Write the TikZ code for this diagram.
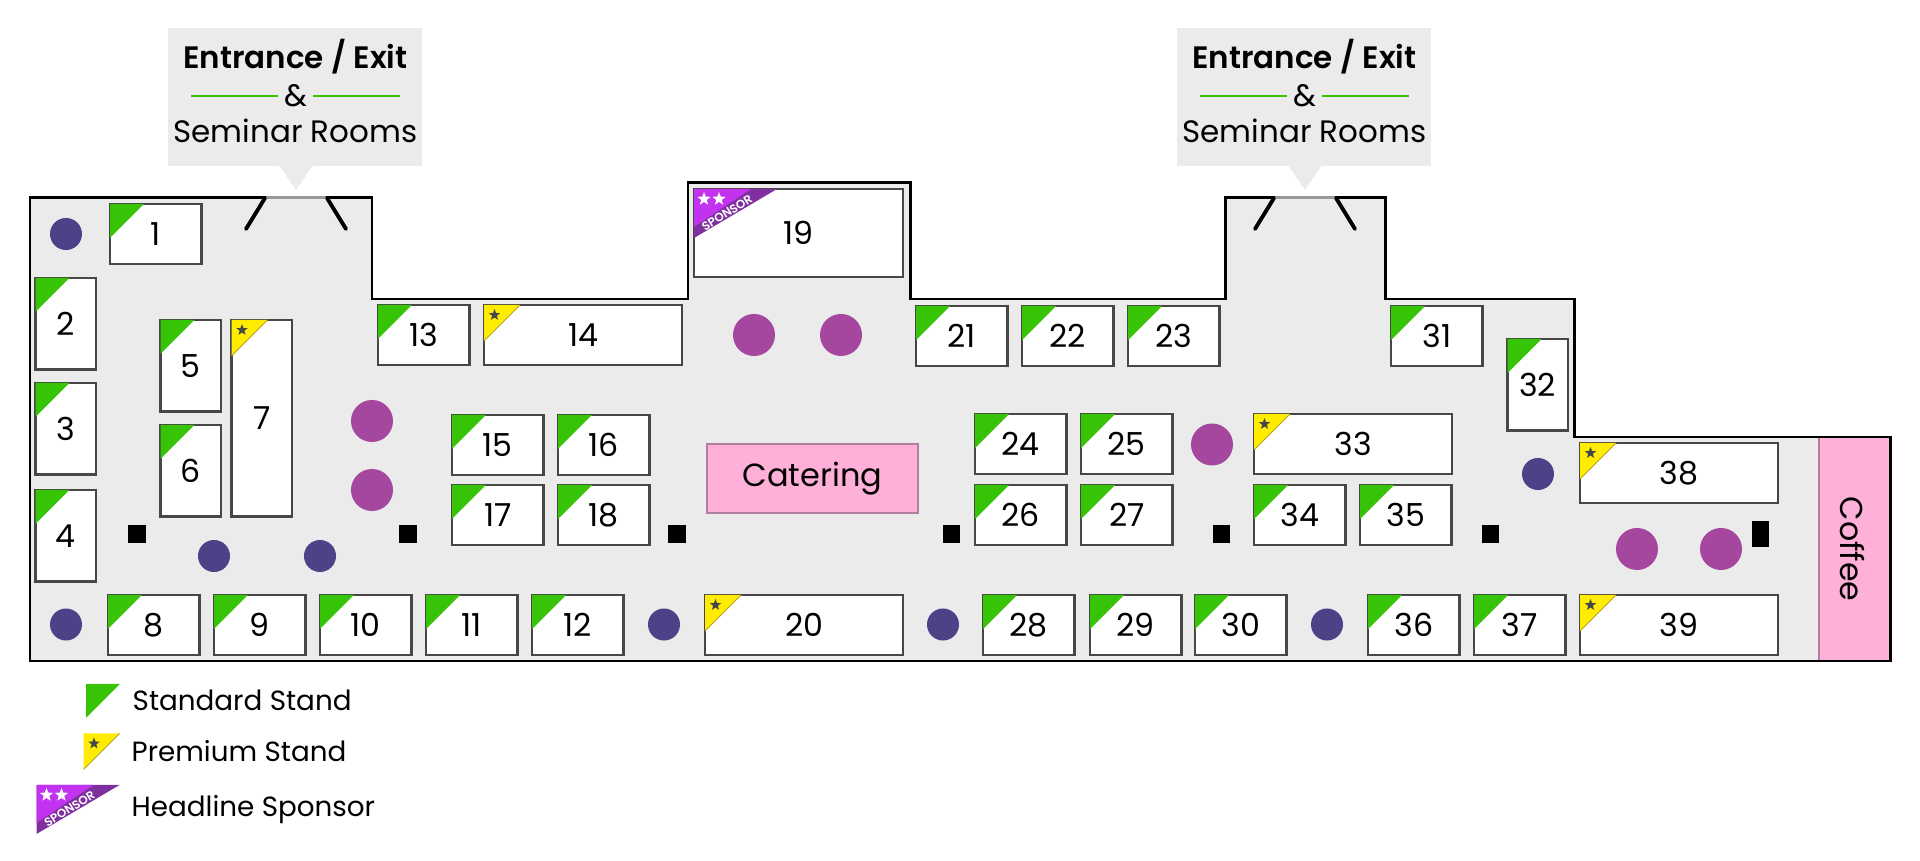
\documentclass[tikz,border=0pt]{standalone}
\usepackage{fontspec}
\setmainfont{Poppins}[BoldFont={* SemiBold}]
\usetikzlibrary{shapes.geometric}

\definecolor{floorgrey}{HTML}{EBEBEB}
\definecolor{standgreen}{HTML}{37C406}
\definecolor{premyellow}{HTML}{FFEC00}
\definecolor{premedge}{HTML}{B3A418}
\definecolor{sponsorpink}{HTML}{C233F0}
\definecolor{sponsordark}{HTML}{7F2F9E}
\definecolor{blobblue}{HTML}{4E4187}
\definecolor{blobpurple}{HTML}{A5469F}
\definecolor{foodpink}{HTML}{FFB0D8}
\definecolor{foodedge}{HTML}{B07E9E}

\tikzset{
    stand/.style = {draw = black!72, fill = white, line width = 0.7pt, inner sep = 0pt, outer sep = 0pt,
            anchor = north west, font = \fontsize{9}{9}\selectfont, minimum width = 0.915cm, minimum height = 0.6cm},
    tallstand/.style = {stand, minimum width = 0.605cm, minimum height = 0.915cm},
    widestand/.style = {stand, minimum width = 1.98cm},
    blue spot/.style = {fill = blobblue, circle, minimum size = 0.32cm, inner sep = 0pt},
    purple spot/.style = {fill = blobpurple, circle, minimum size = 0.42cm, inner sep = 0pt},
    pillar/.style = {fill = black, minimum size = 0.17cm, inner sep = 0pt},
    small star/.style = {star, star points = 5, star point ratio = 2.4, inner sep = 0pt, minimum size = 0.12cm},
    white star/.style = {small star, fill = white, minimum size = 0.14cm},
    callout text/.style = {font = \fontsize{8.8}{10}\selectfont},
    legend text/.style = {anchor = west, inner sep = 0pt, font = \fontsize{7.9}{9}\selectfont},
    door/.style = {line width = 1.1pt, line cap = round},
}

% corner flashes, #1 = corner, #2 = name prefix
\newcommand{\greenflash}[1]{\fill[standgreen] (#1) -- ++(34,0) -- ++(-34,34) -- cycle;}
\newcommand{\yellowflash}[2]{
    \fill[premyellow] (#1) -- ++(36,0) -- ++(-36,36) -- cycle;
    \draw[premedge, line width = 0.25pt] (#1) ++(36,0) -- ++(-36,36);
    \node[small star, fill = black!72] (#2-star) at ([shift = {(10.5,10)}] #1) {};
}
\newcommand{\sponsorflash}[2]{
    \fill[sponsordark] (#1) -- ++(83,0) -- ++(-83,49) -- cycle;
    \fill[sponsorpink] (#1) -- ++(57,0) -- ++(-57,38) -- cycle;
    \node[white star] (#2-stara) at ([shift = {(10,10)}] #1) {};
    \node[white star] (#2-starb) at ([shift = {(25,10)}] #1) {};
    \node[text = white, rotate = 32, font = \fontsize{3.4}{4}\selectfont\bfseries] (#2-text) at ([shift = {(33,24)}] #1) {SPONSOR};
}

\begin{document}
\begin{tikzpicture}[x = 0.01cm, y = -0.01cm]
    \useasboundingbox (0, 0) rectangle (1920, 861);

    % floor
    \draw[fill = floorgrey, line width = 0.85pt, line join = miter]
        (30, 197.5) -- (372, 197.5) -- (372, 299) -- (688, 299) -- (688, 183) -- (910, 183) -- (910, 299)
        -- (1225.5, 299) -- (1225.5, 197.5) -- (1385, 197.5) -- (1385, 299) -- (1574, 299) -- (1574, 437)
        -- (1890.5, 437) -- (1890.5, 661) -- (30, 661) -- cycle;

    % entrances
    \foreach \d/\i in {0/a, 1009/b}{
            \fill[floorgrey] (168 + \d, 28) rectangle (422 + \d, 166);
            \fill[floorgrey] (279 + \d, 165) -- (313 + \d, 165) -- (296 + \d, 190) -- cycle;
            \node[callout text] (title\i) at (295.5 + \d, 57) {\textbf{Entrance / Exit}};
            \node[callout text] (and\i) at (295.5 + \d, 96) {\&};
            \node[callout text] (rooms\i) at (295.5 + \d, 131) {Seminar Rooms};
            \draw[standgreen, line width = 0.35pt] (191 + \d, 96) -- (278 + \d, 96);
            \draw[standgreen, line width = 0.35pt] (313 + \d, 96) -- (400 + \d, 96);
            \draw[floorgrey!65!black, line width = 0.85pt] (266 + \d, 197.5) -- (326 + \d, 197.5);
            \draw[door] (265 + \d, 198) -- (246 + \d, 229);
            \draw[door] (327 + \d, 198) -- (346 + \d, 229);
        }

    % standard stands
    \foreach \n/\x/\y in {1/110/204, 8/108/595, 9/214/595, 10/320/595, 11/426/595, 12/532/595,
            13/378/305, 15/452/415, 16/558/415, 17/452/485, 18/558/485,
            21/916/306, 22/1022/306, 23/1128/306, 24/975/414, 25/1081/414, 26/975/485, 27/1081/485,
            28/983/595, 29/1090/595, 30/1195/595, 31/1391/306, 34/1254/485, 35/1360/485,
            36/1368/595, 37/1474/595}{
            \node[stand] (s\n) at (\x, \y) {\n};
            \greenflash{s\n.north west}
        }
    \foreach \n/\x/\y in {2/35.5/278, 3/35.5/383, 4/35.5/490, 5/160.5/320, 6/160.5/425, 32/1507.5/339}{
            \node[tallstand] (s\n) at (\x, \y) {\n};
            \greenflash{s\n.north west}
        }

    % premium stands
    \foreach \n/\x/\y in {14/484/305, 20/705/595, 33/1254/414, 38/1580/443, 39/1580/595}{
            \node[widestand] (s\n) at (\x, \y) {\n};
            \yellowflash{s\n.north west}{s\n}
        }
    \node[tallstand, minimum height = 1.965cm] (s7) at (231.5, 320) {7};
    \yellowflash{s7.north west}{s7}

    % sponsor
    \node[stand, minimum width = 2.09cm, minimum height = 0.88cm] (s19) at (694, 189) {19};
    \sponsorflash{s19.north west}{s19}

    % spots and pillars
    \foreach \x/\y [count = \i] in {66/234, 66/624.5, 214/556, 320/556, 664/624.5, 943/624.5, 1327/624.5, 1538/474}{
            \node[blue spot] (blue\i) at (\x, \y) {};
        }
    \foreach \x/\y [count = \i] in {754/335, 841/335, 372/421, 372/490, 1212/444.5, 1637/549, 1721/549}{
            \node[purple spot] (purple\i) at (\x, \y) {};
        }
    \foreach \x [count = \i] in {137, 408, 677, 951, 1221, 1490}{
            \node[pillar] (pillar\i) at (\x, 534) {};
        }
    \node[pillar, minimum width = 0.17cm, minimum height = 0.26cm] (pillar7) at (1760.5, 534) {};

    % food
    \node[draw = foodedge, fill = foodpink, line width = 0.5pt, minimum width = 2.11cm, minimum height = 0.69cm,
        inner sep = 0pt, font = \fontsize{9.1}{10}\selectfont] (catering) at (812.5, 478.5) {Catering};
    \fill[foodpink] (1819, 438) rectangle (1890, 660);
    \draw[foodedge, line width = 0.5pt] (1819, 438) -- (1819, 660);
    \draw[line width = 0.85pt] (1819, 661) -- (1890.5, 661) -- (1890.5, 437) -- (1819, 437);
    \node[rotate = -90, font = \fontsize{9}{10}\selectfont] (coffee) at (1852, 549) {Coffee};

    % legend
    \greenflash{86, 684}
    \node[legend text] (standard) at (132, 700) {Standard Stand};
    \yellowflash{83.5, 733.5}{legendyellow}
    \node[legend text] (premium) at (131, 751) {Premium Stand};
    \sponsorflash{36.5, 785}{legendsponsor}
    \node[legend text] (headline) at (131, 810) {Headline Sponsor};
\end{tikzpicture}
\end{document}
